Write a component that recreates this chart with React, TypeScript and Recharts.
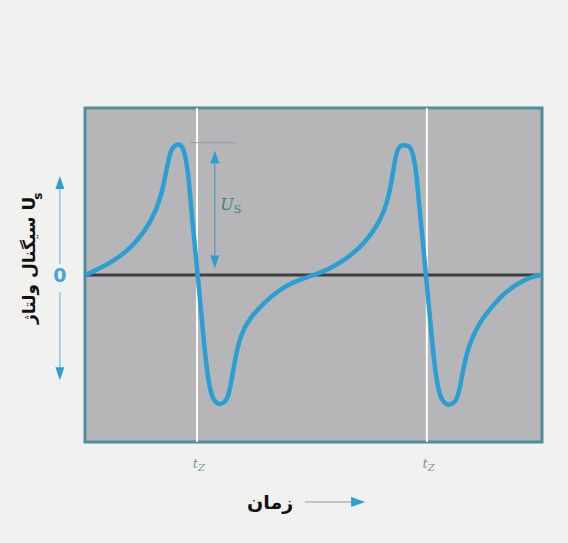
import React from 'react';
import { ComposedChart, Line, XAxis, YAxis, ReferenceArea, ReferenceLine, ReferenceDot } from 'recharts';

// time axis (arbitrary units 0..100) and signal voltage (peak = 1)
const time = [
  0, 2.2, 4.4, 6.6, 8.8, 11.0, 13.1, 14.6, 15.9, 17.0, 17.9, 18.6, 19.5, 20.5, 21.4,
  22.0, 22.6, 23.3, 24.0, 24.65, 25.35, 26.05, 26.75, 27.5, 28.4, 29.5, 30.6,
  31.3, 31.8, 32.4, 33.05, 33.8, 34.9, 36.4, 38.2, 40.4, 42.6, 44.9, 47.4, 50.0,
  52.2, 54.4, 56.6, 58.8, 61.0, 63.0, 64.5, 65.7, 66.6, 67.4, 68.0, 68.7, 69.6, 70.7, 71.5,
  72.0, 72.5, 73.2, 73.9, 74.6, 75.3, 76.0, 76.7, 77.45, 78.35, 79.6, 80.8,
  81.5, 82.05, 82.75, 83.8, 84.9, 86.4, 88.0, 89.7, 91.5, 93.6, 95.5, 97.5, 100,
];
const voltage = [
  0, 0.035, 0.075, 0.122, 0.18, 0.255, 0.35, 0.44, 0.545, 0.675, 0.83, 0.94, 1.0, 1.015, 0.985,
  0.91, 0.77, 0.5, 0.24, 0, -0.265, -0.53, -0.75, -0.9, -0.98, -1.005, -0.985,
  -0.94, -0.865, -0.75, -0.625, -0.515, -0.415, -0.33, -0.255, -0.18, -0.12, -0.07, -0.032, 0,
  0.03, 0.068, 0.115, 0.175, 0.25, 0.34, 0.43, 0.53, 0.645, 0.8, 0.92, 0.99, 1.01, 1.005, 0.965,
  0.9, 0.78, 0.52, 0.265, 0, -0.265, -0.53, -0.75, -0.9, -0.98, -1.01, -0.99,
  -0.945, -0.87, -0.74, -0.585, -0.48, -0.375, -0.295, -0.222, -0.155, -0.095, -0.052, -0.02, 0,
];
const zeroCrossings = [24.5, 74.8];
const tickLabel = 't';
const tickSub = 'Z';
const yTitle = 'سیگنال ولتاژ';
const yTitleLatin = 'U';
const yTitleSub = 's';
const xTitle = 'زمان';
const amplitudeLabel = 'U';
const amplitudeSub = 'S';

const data = time.map((t, i) => ({ t, v: voltage[i] }));

const BLUE = '#2a9fd4';
const PERSIAN_FONT = '"DejaVu Sans", sans-serif';

function vArrow(props: any, gapMid = false) {
  const { x1, y1, x2, y2 } = props;
  const x = (x1 + x2) / 2;
  const top = Math.min(y1, y2);
  const bot = Math.max(y1, y2);
  const hw = 4.5;
  const hh = 13;
  return (
    <g>
      {gapMid ? (
        <>
          <line x1={x} y1={top + hh} x2={x} y2={(top + bot) / 2 - 14} stroke="#8cc6e2" strokeWidth={1.5} />
          <line x1={x} y1={(top + bot) / 2 + 14} x2={x} y2={bot - hh} stroke="#8cc6e2" strokeWidth={1.5} />
        </>
      ) : (
        <line x1={x} y1={top + hh} x2={x} y2={bot - hh} stroke="#5a9cc8" strokeWidth={1.3} />
      )}
      <path d={`M${x},${top} L${x - hw},${top + hh} L${x + hw},${top + hh} Z`} fill={BLUE} />
      <path d={`M${x},${bot} L${x - hw},${bot - hh} L${x + hw},${bot - hh} Z`} fill={BLUE} />
    </g>
  );
}

function hArrow(props: any) {
  const { x1, y1, x2 } = props;
  const l = Math.min(x1, x2);
  const r = Math.max(x1, x2);
  return (
    <g>
      <line x1={l} y1={y1} x2={r - 12} y2={y1} stroke="#8a9aa2" strokeWidth={1} />
      <path d={`M${r},${y1} L${r - 14},${y1 - 5} L${r - 14},${y1 + 5} Z`} fill={BLUE} />
    </g>
  );
}

export default function App() {
  return (
    <div style={{ position: 'absolute', left: 0, top: 0, width: 568, height: 543, background: '#f1f1ef' }}>
      <ComposedChart width={568} height={543} data={data} margin={{ top: 108, right: 26, bottom: 101, left: 85 }}>
        <XAxis type="number" dataKey="t" domain={[0, 100]} hide />
        <YAxis type="number" domain={[-1.3, 1.3]} hide />
        <ReferenceArea x1={0} x2={100} y1={-1.3} y2={1.3} fill="#b6b5b7" fillOpacity={1} stroke="#4e8d9c" strokeWidth={3} />
        {zeroCrossings.map((x) => (
          <ReferenceLine key={x} x={x} stroke="#ffffff" strokeWidth={2} />
        ))}
        <ReferenceLine y={0} stroke="#3e3e40" strokeWidth={3} />
        <ReferenceLine segment={[{ x: 23, y: 1.03 }, { x: 33, y: 1.03 }]} stroke="#8aa3aa" strokeWidth={1} />
        <ReferenceLine segment={[{ x: 28.4, y: 0.97 }, { x: 28.4, y: 0.05 }]} shape={(p: any) => vArrow(p)} />
        <ReferenceDot
          x={31.9}
          y={0.55}
          r={0}
          ifOverflow="visible"
          shape={(p: any) => (
            <text x={p.cx} y={p.cy + 6} textAnchor="middle" fontFamily='"DejaVu Serif", serif' fontStyle="italic" fontSize={16} fill="#3d8585">
              {amplitudeLabel}
              <tspan fontSize={11} fontStyle="normal" dy={3}>{amplitudeSub}</tspan>
            </text>
          )}
        />
        <Line type="monotone" dataKey="v" stroke={BLUE} strokeWidth={4.5} dot={false} isAnimationActive={false} />
        <ReferenceLine segment={[{ x: -5.5, y: 0.77 }, { x: -5.5, y: -0.82 }]} ifOverflow="visible" shape={(p: any) => vArrow(p, true)} />
        <ReferenceDot
          x={-5.5}
          y={0}
          r={0}
          ifOverflow="visible"
          shape={(p: any) => (
            <text x={p.cx} y={p.cy + 7} textAnchor="middle" fontFamily="'DejaVu Sans', sans-serif" fontWeight="bold" fontSize={19} fill="#45a6d6">
              0
            </text>
          )}
        />
        <ReferenceDot
          x={-12.3}
          y={0.13}
          r={0}
          ifOverflow="visible"
          shape={(p: any) => (
            <text
              x={p.cx}
              y={p.cy}
              transform={`rotate(-90 ${p.cx} ${p.cy})`}
              textAnchor="middle"
              dominantBaseline="central"
              fontFamily={PERSIAN_FONT}
              fontWeight="bold"
              fontSize={17}
              fill="#111"
            >
              {yTitle} {yTitleLatin}
              <tspan fontSize={12} dx={-3} dy={9}>{yTitleSub}</tspan>
            </text>
          )}
        />
        {zeroCrossings.map((x) => (
          <ReferenceDot
            key={'l' + x}
            x={x + 0.4}
            y={-1.46}
            r={0}
            ifOverflow="visible"
            shape={(p: any) => (
              <text x={p.cx} y={p.cy + 5} textAnchor="middle" fontFamily='"DejaVu Serif", serif' fontStyle="italic" fontSize={13} fill="#6f98a4">
                {tickLabel}
                <tspan fontSize={10} dy={3}>{tickSub}</tspan>
              </text>
            )}
          />
        ))}
        <ReferenceDot
          x={40.5}
          y={-1.77}
          r={0}
          ifOverflow="visible"
          shape={(p: any) => (
            <text x={p.cx} y={p.cy} textAnchor="middle" dominantBaseline="central" fontFamily={PERSIAN_FONT} fontWeight="bold" fontSize={19} fill="#111">
              {xTitle}
            </text>
          )}
        />
        <ReferenceLine segment={[{ x: 48.1, y: -1.767 }, { x: 61.3, y: -1.767 }]} ifOverflow="visible" shape={(p: any) => hArrow(p)} />
      </ComposedChart>
    </div>
  );
}
